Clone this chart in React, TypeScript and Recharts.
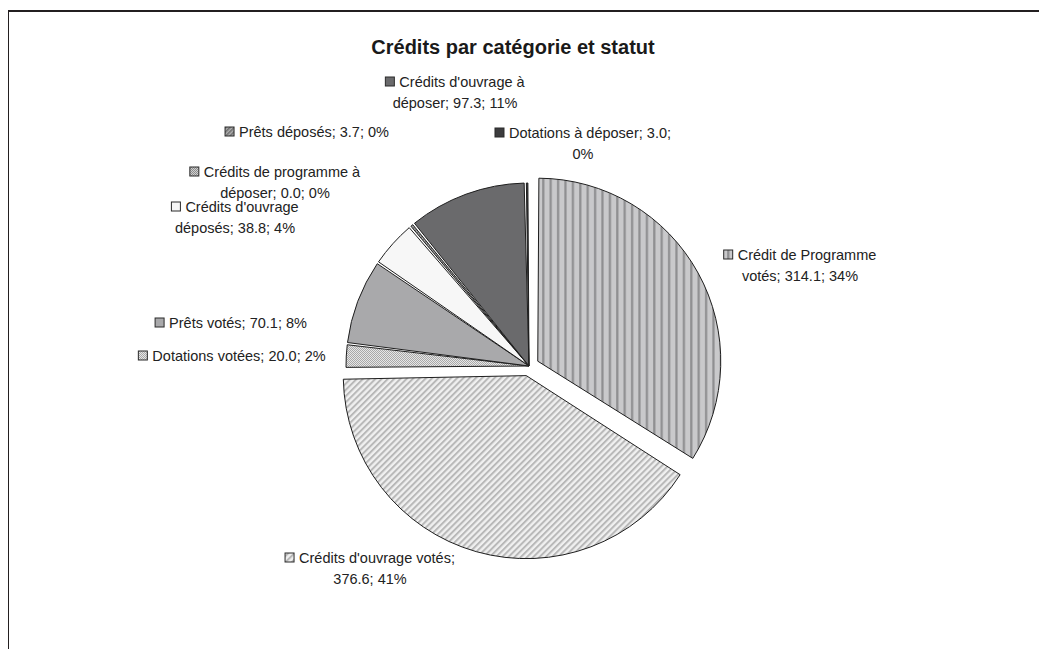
import React from "react";
import { PieChart, Pie, Cell, Sector } from "recharts";

const CATEGORIES = [
  "Crédit de Programme votés",
  "Crédits d'ouvrage votés",
  "Dotations votées",
  "Prêts votés",
  "Crédits d'ouvrage déposés",
  "Crédits de programme à déposer",
  "Prêts déposés",
  "Crédits d'ouvrage à déposer",
  "Dotations à déposer",
];
const VALUES = [314.1, 376.6, 20.0, 70.1, 38.8, 0.0, 3.7, 97.3, 3.0];
// how many words of each label stay on the first line
const FIRST_LINE_WORDS = [3, 3, 99, 99, 2, 4, 99, 3, 4];
const EXPLODED = ["Crédit de Programme votés", "Crédits d'ouvrage votés"];

const FILLS = [
  "url(#vstripe)",
  "url(#dstripe)",
  "url(#checker)",
  "#a9a9ab",
  "#f7f7f7",
  "url(#checker2)",
  "url(#dstripe2)",
  "#6a6a6c",
  "#3c3c3e",
];

// label block anchors, offset from the pie centre (x centre, first line y)
const LABEL_OFFSETS = [
  [271, -111],
  [-159, 192],
  [-297, -10],
  [-298, -43],
  [-294, -159],
  [-254, -194],
  [-222, -234],
  [-74, -284],
  [54, -233],
];

const FONT = "'Liberation Sans', Arial, sans-serif";
const LABEL_SIZE = 14.5;
const RADIAN = Math.PI / 180;
const total = VALUES.reduce((a, b) => a + b, 0);
const data = CATEGORIES.map((name, i) => ({ name, value: VALUES[i] }));

let ctx: CanvasRenderingContext2D | null = null;
function textWidth(s: string) {
  if (!ctx) ctx = document.createElement("canvas").getContext("2d");
  if (!ctx) return s.length * 7;
  ctx.font = `${LABEL_SIZE}px ${FONT}`;
  return ctx.measureText(s).width;
}

function Slice(props: any) {
  const { cx, cy, midAngle, name, startAngle, endAngle } = props;
  const d = EXPLODED.includes(name) ? 10 : 0;
  const dx = d * Math.cos(-midAngle * RADIAN);
  const dy = d * Math.sin(-midAngle * RADIAN);
  // small white gap between neighbouring slices
  const span = startAngle - endAngle;
  const inset = Math.min(0.35, Math.max(0, (span - 0.4) / 2));
  return (
    <Sector
      {...props}
      cx={cx + dx}
      cy={cy + dy}
      startAngle={startAngle - inset}
      endAngle={endAngle + inset}
      stroke="#1e1e1e"
      strokeWidth={1}
    />
  );
}

function SliceLabel(props: any) {
  const { cx, cy, index } = props;
  const v = VALUES[index];
  const pct = Math.round((v / total) * 100);
  const words = `${CATEGORIES[index]}; ${v.toFixed(1)}; ${pct}%`.split(" ");
  const n = FIRST_LINE_WORDS[index];
  const lines = [words.slice(0, n).join(" ")];
  if (words.length > n) lines.push(words.slice(n).join(" "));
  const [ox, oy] = LABEL_OFFSETS[index];
  const x = cx + ox;
  const y = cy + oy;
  const w0 = textWidth(lines[0]);
  const keyW = 9;
  const gap = 5;
  const start = x - (w0 + keyW + gap) / 2;
  return (
    <g>
      <rect x={start} y={y - 5} width={keyW} height={keyW} fill={FILLS[index]} stroke="#2a2a2a" strokeWidth={1} />
      <text x={start + keyW + gap} y={y + 5} fontSize={LABEL_SIZE} fontFamily={FONT} fill="#222">
        {lines[0]}
      </text>
      {lines[1] && (
        <text x={x} y={y + 26} fontSize={LABEL_SIZE} fontFamily={FONT} fill="#222" textAnchor="middle">
          {lines[1]}
        </text>
      )}
    </g>
  );
}

export default function App() {
  return (
    <div style={{ position: "relative", margin: -8, width: 1047, height: 657, overflow: "hidden", background: "#fff" }}>
      <div
        style={{
          position: "absolute",
          left: 7,
          top: 10,
          width: 1100,
          height: 800,
          border: "2px solid #231f20",
        }}
      />
      <div style={{ position: "absolute", left: 0, top: 0 }}>
        <PieChart width={1047} height={657} margin={{ top: 0, right: 0, bottom: 0, left: 0 }}>
          <defs>
            <pattern id="vstripe" patternUnits="userSpaceOnUse" width={7.4} height={10}>
              <rect width={7.4} height={10} fill="#c9c9cb" />
              <rect x={2} width={2.2} height={10} fill="#8e8e90" />
            </pattern>
            <pattern id="dstripe" patternUnits="userSpaceOnUse" width={4.4} height={10} patternTransform="rotate(45)">
              <rect width={4.4} height={10} fill="#f0f0f0" />
              <rect width={2} height={10} fill="#b8b8b8" />
            </pattern>
            <pattern id="dstripe2" patternUnits="userSpaceOnUse" width={3} height={10} patternTransform="rotate(45)">
              <rect width={3} height={10} fill="#b0b0b0" />
              <rect width={1.5} height={10} fill="#6c6c6c" />
            </pattern>
            <pattern id="checker" patternUnits="userSpaceOnUse" width={2} height={2}>
              <rect width={2} height={2} fill="#e6e6e6" />
              <rect width={1} height={1} fill="#a8a8a8" />
              <rect x={1} y={1} width={1} height={1} fill="#a8a8a8" />
            </pattern>
            <pattern id="checker2" patternUnits="userSpaceOnUse" width={2} height={2}>
              <rect width={2} height={2} fill="#d0d0d0" />
              <rect width={1} height={1} fill="#8c8c8c" />
              <rect x={1} y={1} width={1} height={1} fill="#8c8c8c" />
            </pattern>
          </defs>
          <text x={513} y={54} textAnchor="middle" fontSize={20} fontWeight="bold" fontFamily={FONT} fill="#1a1a1a">
            Crédits par catégorie et statut
          </text>
          <Pie
            data={data}
            dataKey="value"
            nameKey="name"
            cx={529}
            cy={366}
            outerRadius={183}
            startAngle={90}
            endAngle={-270}
            stroke="#1e1e1e"
            strokeWidth={1}
            shape={Slice}
            activeShape={Slice}
            label={SliceLabel}
            labelLine={false}
            isAnimationActive={false}
          >
            {data.map((d, i) => (
              <Cell key={d.name} fill={FILLS[i]} />
            ))}
          </Pie>
        </PieChart>
      </div>
    </div>
  );
}
